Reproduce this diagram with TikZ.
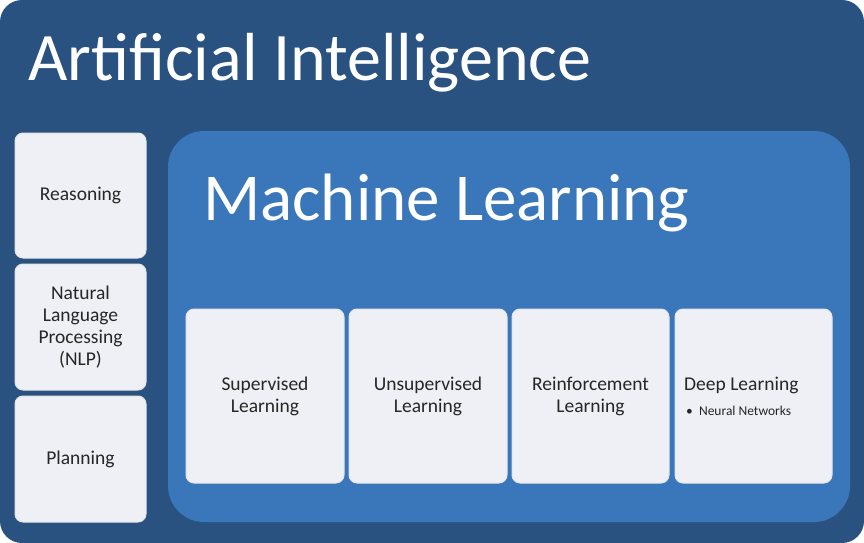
\documentclass[tikz,border=0pt]{standalone}
\usepackage{fontspec}
\setmainfont{Carlito}
\definecolor{aiblue}{RGB}{41,82,128}
\definecolor{mlblue}{RGB}{58,118,186}
\definecolor{boxgray}{RGB}{238,240,245}

\begin{document}
\begin{tikzpicture}[
  x=1pt,y=-1pt,
  topic/.style={draw=white!80!gray,fill=boxgray,rounded corners=8pt,line width=1pt,
    align=center,text width=120pt,font=\fontsize{19.5}{22}\selectfont,text=black!85},
  method/.style={topic,text width=150pt}
]
\useasboundingbox (0,0) rectangle (864,543);
\fill[white] (0,0) rectangle (864,543);
\fill[aiblue,rounded corners=22pt] (0,0) rectangle (864,543);
\node[anchor=base west,text=white,font=\fontsize{68}{70}\selectfont,inner sep=0pt] (ai) at (28,80) {Artificial Intelligence};

% left column
\node[topic,minimum width=131pt,minimum height=125pt] (reason) at (80.5,195.5) {Reasoning};
\node[topic,minimum width=131pt,minimum height=126pt] (nlp) at (80.5,327) {Natural\\Language\\Processing\\(NLP)};
\node[topic,minimum width=131pt,minimum height=126pt] (plan) at (80.5,459) {Planning};

% machine learning
\fill[mlblue,rounded corners=36pt] (168,131) rectangle (850,522);
\node[anchor=base west,text=white,font=\fontsize{67}{69}\selectfont,inner sep=0pt] (ml) at (203,220) {Machine Learning};

\node[method,minimum width=158pt,minimum height=174pt] (sup) at (265,396) {Supervised\\Learning};
\node[method,minimum width=158pt,minimum height=174pt] (unsup) at (428,396) {Unsupervised\\Learning};
\node[method,minimum width=157pt,minimum height=174pt] (rein) at (590.5,396) {Reinforcement\\Learning};
\node[method,minimum width=157pt,minimum height=174pt] (deep) at (753.5,396) {};
\node[anchor=base west,font=\fontsize{19.5}{22}\selectfont,text=black!85,inner sep=0pt] (dltitle) at (684,390) {Deep Learning};
\node[anchor=base west,font=\fontsize{13.5}{15}\selectfont,text=black!85,inner sep=0pt] (dlnet) at (686,415) {\textbullet\ \ Neural Networks};
\end{tikzpicture}
\end{document}
